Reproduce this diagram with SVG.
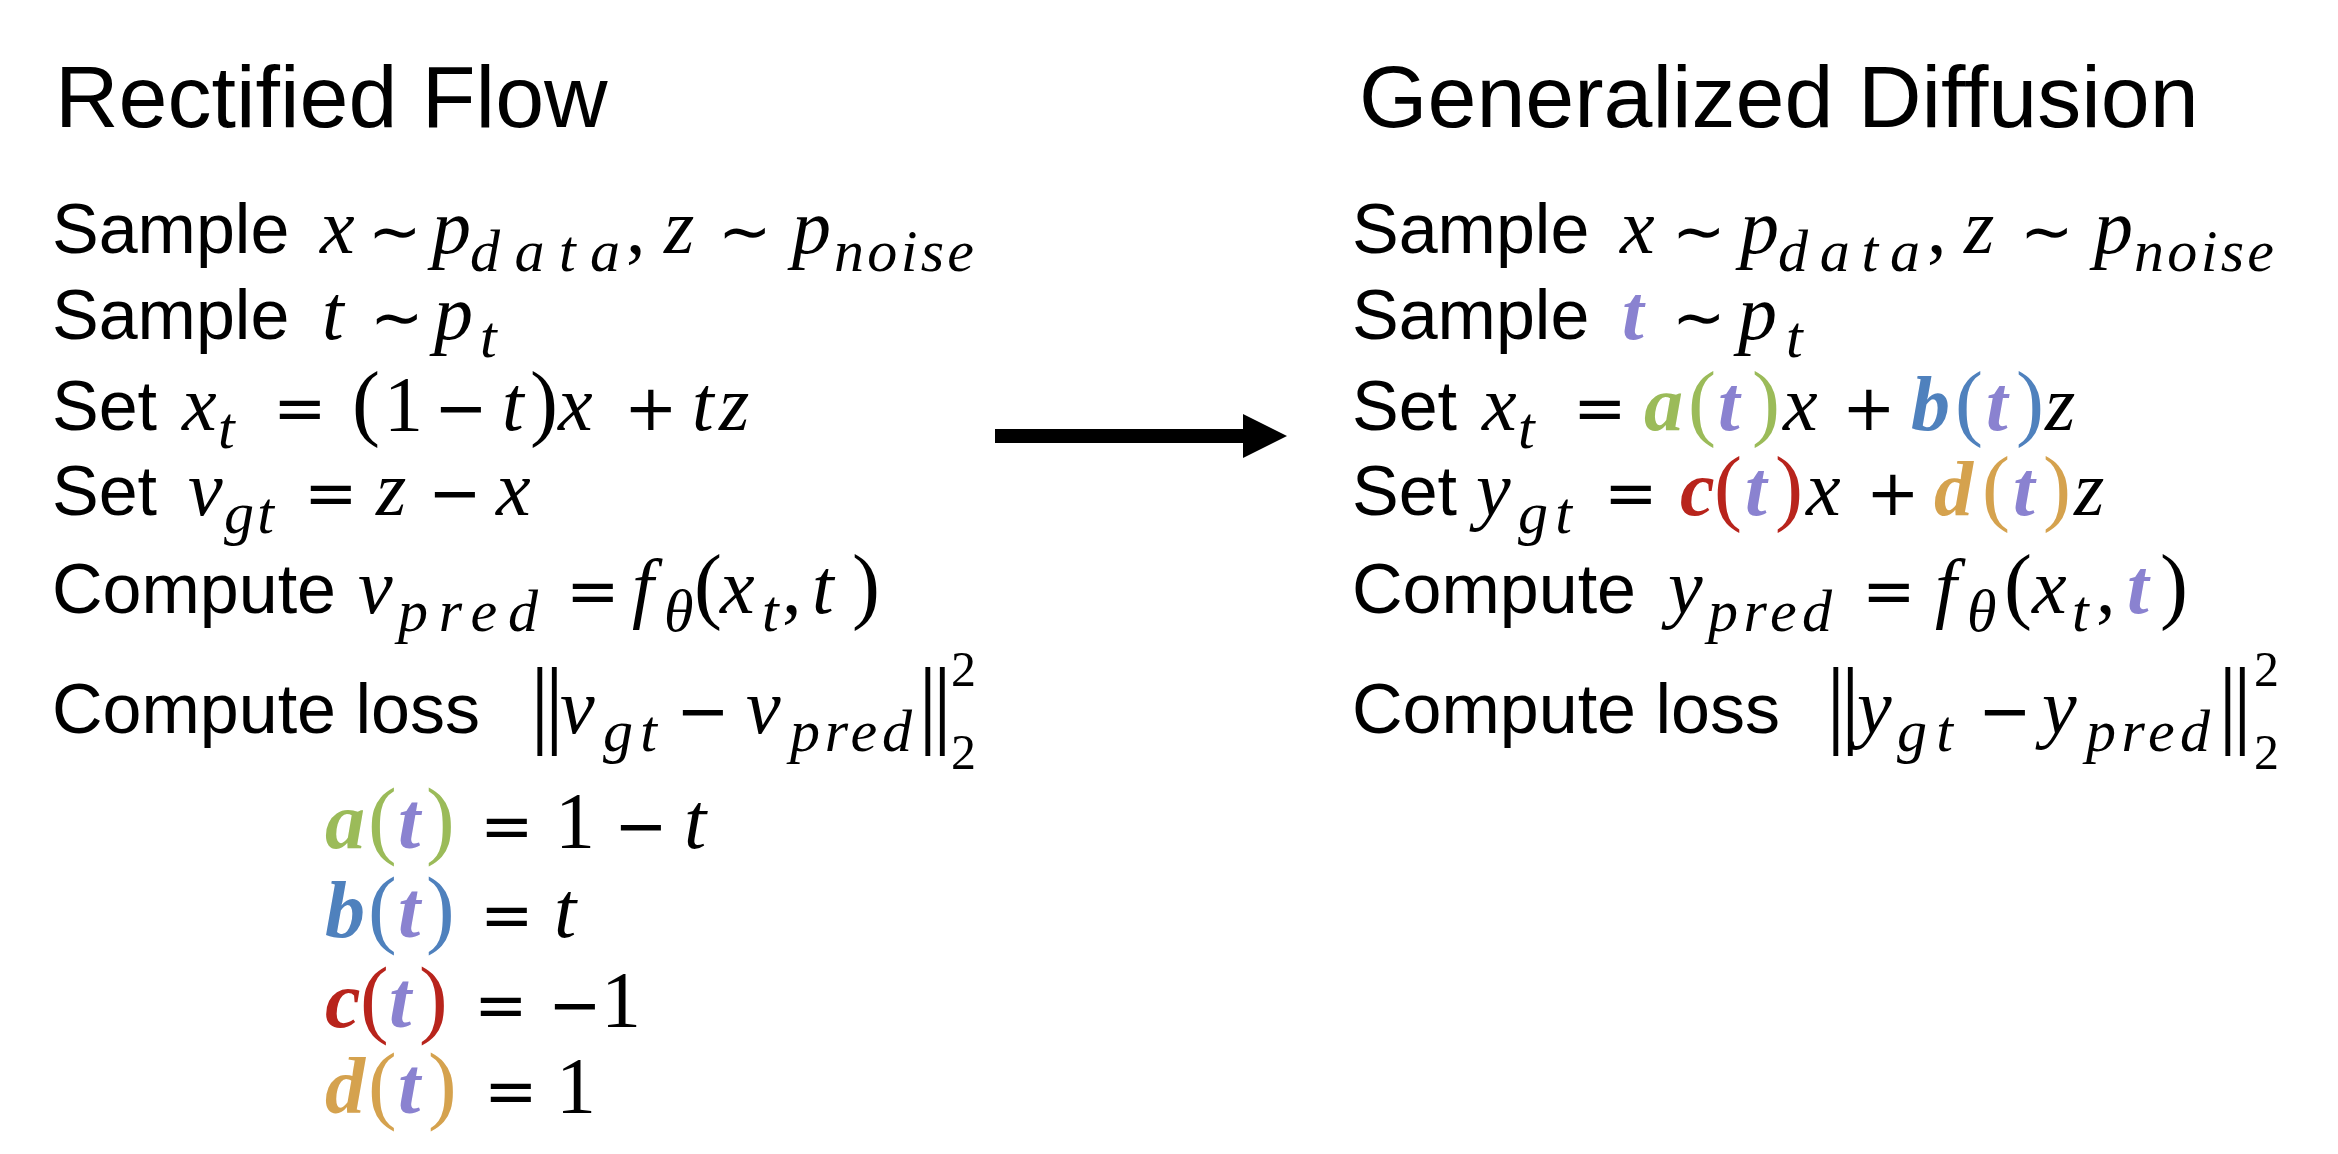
<svg xmlns="http://www.w3.org/2000/svg" width="2338" height="1154" viewBox="0 0 2338 1154">
<style>
text{fill:#000}
.h{font-family:"Liberation Sans",Arial,sans-serif;font-size:88px}
.s{font-family:"Liberation Sans",Arial,sans-serif;font-size:70px}
.m{font-family:"Liberation Serif","Times New Roman",serif;font-style:italic;font-size:78px}
.r{font-family:"Liberation Serif","Times New Roman",serif;font-size:78px}
.p{font-family:"Liberation Serif","Times New Roman",serif;font-size:84px}
.o{font-family:"DejaVu Sans",sans-serif;font-size:64px}
.sb{font-family:"Liberation Serif","Times New Roman",serif;font-style:italic;font-size:60px}
.n2{font-family:"Liberation Serif","Times New Roman",serif;font-size:50px}
.bar{font-family:"Liberation Serif","Times New Roman",serif;font-size:98px;letter-spacing:-5px}
.bi{font-weight:bold;font-style:italic}
.L{font-size:80px}
.Lp{font-size:86px}
.Lo{font-size:64px}
.ga{fill:#9BBB59}.bb{fill:#4F81BD}.rc{fill:#B8241C}.od{fill:#D5A24E}.pt{fill:#8A82D0}
</style>
<rect width="2338" height="1154" fill="#fff"/>

<g id="rectified-flow">
<text class="h" x="55" y="127">Rectified Flow</text>
<g id="rf-line1">
<text class="s" x="52" y="253">Sample</text>
<text class="m" x="320" y="253">x</text>
<text class="o" x="368" y="253">∼</text>
<text class="m" x="432" y="253">p</text>
<text class="sb" x="470" y="271" textLength="150" lengthAdjust="spacing">data</text>
<text class="r" x="626" y="253">,</text>
<text class="m" x="664" y="253">z</text>
<text class="o" x="718" y="253">∼</text>
<text class="m" x="792" y="253">p</text>
<text class="sb" x="834" y="271" textLength="140" lengthAdjust="spacing">noise</text>
</g>
<g id="rf-line2">
<text class="s" x="52" y="339">Sample</text>
<text class="m" x="322" y="339">t</text>
<text class="o" x="370" y="339">∼</text>
<text class="m" x="434" y="339">p</text>
<text class="sb" x="480" y="357">t</text>
</g>
<g id="rf-line3">
<text class="s" x="52" y="430">Set</text>
<text class="m" x="182" y="430">x</text>
<text class="sb" x="218" y="448">t</text>
<text class="o" x="273" y="430">=</text>
<text class="p" x="352" y="430">(</text>
<text class="r" x="384" y="430">1</text>
<text class="o" x="434" y="430">−</text>
<text class="m" x="502" y="430">t</text>
<text class="p" x="530" y="430">)</text>
<text class="m" x="558" y="430">x</text>
<text class="o" x="624" y="430">+</text>
<text class="m" x="692" y="430">t</text>
<text class="m" x="719" y="430">z</text>
</g>
<g id="rf-line4">
<text class="s" x="52" y="515">Set</text>
<text class="m" x="188" y="515">v</text>
<text class="sb" x="224" y="533" textLength="50" lengthAdjust="spacing">gt</text>
<text class="o" x="304" y="515">=</text>
<text class="m" x="376" y="515">z</text>
<text class="o" x="428" y="515">−</text>
<text class="m" x="496" y="515">x</text>
</g>
<g id="rf-line5">
<text class="s" x="52" y="613">Compute</text>
<text class="m" x="358" y="613">v</text>
<text class="sb" x="398" y="631" textLength="140" lengthAdjust="spacing">pred</text>
<text class="o" x="566" y="613">=</text>
<text class="m" x="632" y="613">f</text>
<text class="sb" x="664" y="631">θ</text>
<text class="p" x="694" y="613">(</text>
<text class="m" x="720" y="613">x</text>
<text class="sb" x="762" y="631">t</text>
<text class="r" x="782" y="613">,</text>
<text class="m" x="812" y="613">t</text>
<text class="p" x="852" y="613">)</text>
</g>
<g id="rf-line6">
<text class="s" x="52" y="733">Compute loss</text>
<text class="bar" x="530" y="735">||</text>
<text class="m" x="560" y="733">v</text>
<text class="sb" x="603" y="751" textLength="54" lengthAdjust="spacing">gt</text>
<text class="o" x="676" y="733">−</text>
<text class="m" x="746" y="733">v</text>
<text class="sb" x="790" y="751" textLength="122" lengthAdjust="spacing">pred</text>
<text class="bar" x="918" y="735">||</text>
<text class="n2" x="951" y="686">2</text>
<text class="n2" x="951" y="769">2</text>
</g>
<g id="rf-coeffs">
<text class="m L bi ga" x="325" y="848">a</text>
<text class="r Lp ga" x="368" y="848">(</text>
<text class="m L bi pt" x="398" y="848">t</text>
<text class="r Lp ga" x="426" y="848">)</text>
<text class="o Lo" x="480" y="848">=</text>
<text class="r L" x="555" y="848">1</text>
<text class="o Lo" x="614" y="848">−</text>
<text class="m L" x="684" y="848">t</text>

<text class="m L bi bb" x="325" y="937">b</text>
<text class="r Lp bb" x="368" y="937">(</text>
<text class="m L bi pt" x="398" y="937">t</text>
<text class="r Lp bb" x="426" y="937">)</text>
<text class="o Lo" x="480" y="937">=</text>
<text class="m L" x="554" y="937">t</text>

<text class="m L bi rc" x="325" y="1027">c</text>
<text class="r Lp rc" x="360" y="1027">(</text>
<text class="m L bi pt" x="389" y="1027">t</text>
<text class="r Lp rc" x="419" y="1027">)</text>
<text class="o Lo" x="474" y="1027">=</text>
<text class="o Lo" x="548" y="1027">−</text>
<text class="r L" x="601" y="1027">1</text>

<text class="m L bi od" x="325" y="1113">d</text>
<text class="r Lp od" x="368" y="1113">(</text>
<text class="m L bi pt" x="398" y="1113">t</text>
<text class="r Lp od" x="428" y="1113">)</text>
<text class="o Lo" x="484" y="1113">=</text>
<text class="r L" x="556" y="1113">1</text>
</g>
</g>

<g id="generalized-diffusion">
<text class="h" x="1359" y="127">Generalized Diffusion</text>
<g id="gd-line1">
<text class="s" x="1352" y="253">Sample</text>
<text class="m" x="1620" y="253">x</text>
<text class="o" x="1672" y="253">∼</text>
<text class="m" x="1740" y="253">p</text>
<text class="sb" x="1778" y="271" textLength="142" lengthAdjust="spacing">data</text>
<text class="r" x="1927" y="253">,</text>
<text class="m" x="1964" y="253">z</text>
<text class="o" x="2020" y="253">∼</text>
<text class="m" x="2094" y="253">p</text>
<text class="sb" x="2134" y="271" textLength="140" lengthAdjust="spacing">noise</text>
</g>
<g id="gd-line2">
<text class="s" x="1352" y="339">Sample</text>
<text class="m bi pt" x="1622" y="339">t</text>
<text class="o" x="1672" y="339">∼</text>
<text class="m" x="1738" y="339">p</text>
<text class="sb" x="1786" y="357">t</text>
</g>
<g id="gd-line3">
<text class="s" x="1352" y="430">Set</text>
<text class="m" x="1482" y="430">x</text>
<text class="sb" x="1518" y="448">t</text>
<text class="o" x="1573" y="430">=</text>
<text class="m bi ga" x="1644" y="430">a</text>
<text class="p ga" x="1688" y="430">(</text>
<text class="m bi pt" x="1718" y="430">t</text>
<text class="p ga" x="1752" y="430">)</text>
<text class="m" x="1783" y="430">x</text>
<text class="o" x="1842" y="430">+</text>
<text class="m bi bb" x="1911" y="430">b</text>
<text class="p bb" x="1955" y="430">(</text>
<text class="m bi pt" x="1986" y="430">t</text>
<text class="p bb" x="2016" y="430">)</text>
<text class="m" x="2045" y="430">z</text>
</g>
<g id="gd-line4">
<text class="s" x="1352" y="515">Set</text>
<text class="m" x="1476" y="515">y</text>
<text class="sb" x="1518" y="533" textLength="54" lengthAdjust="spacing">gt</text>
<text class="o" x="1604" y="515">=</text>
<text class="m bi rc" x="1680" y="515">c</text>
<text class="p rc" x="1714" y="515">(</text>
<text class="m bi pt" x="1745" y="515">t</text>
<text class="p rc" x="1775" y="515">)</text>
<text class="m" x="1806" y="515">x</text>
<text class="o" x="1866" y="515">+</text>
<text class="m bi od" x="1934" y="515">d</text>
<text class="p od" x="1982" y="515">(</text>
<text class="m bi pt" x="2013" y="515">t</text>
<text class="p od" x="2043" y="515">)</text>
<text class="m" x="2074" y="515">z</text>
</g>
<g id="gd-line5">
<text class="s" x="1352" y="613">Compute</text>
<text class="m" x="1668" y="613">y</text>
<text class="sb" x="1708" y="631" textLength="124" lengthAdjust="spacing">pred</text>
<text class="o" x="1862" y="613">=</text>
<text class="m" x="1935" y="613">f</text>
<text class="sb" x="1967" y="631">θ</text>
<text class="p" x="2004" y="613">(</text>
<text class="m" x="2032" y="613">x</text>
<text class="sb" x="2072" y="631">t</text>
<text class="r" x="2096" y="613">,</text>
<text class="m bi pt" x="2127" y="613">t</text>
<text class="p" x="2160" y="613">)</text>
</g>
<g id="gd-line6">
<text class="s" x="1352" y="733">Compute loss</text>
<text class="bar" x="1826" y="735">||</text>
<text class="m" x="1857" y="733">y</text>
<text class="sb" x="1897" y="751" textLength="56" lengthAdjust="spacing">gt</text>
<text class="o" x="1978" y="733">−</text>
<text class="m" x="2042" y="733">y</text>
<text class="sb" x="2086" y="751" textLength="124" lengthAdjust="spacing">pred</text>
<text class="bar" x="2218" y="735">||</text>
<text class="n2" x="2254" y="686">2</text>
<text class="n2" x="2254" y="769">2</text>
</g>
</g>

<g id="connectors">
<path d="M995,429 L1243,429 L1243,414 L1287,436 L1243,458 L1243,443 L995,443 Z" fill="#000"/>
</g>
</svg>
